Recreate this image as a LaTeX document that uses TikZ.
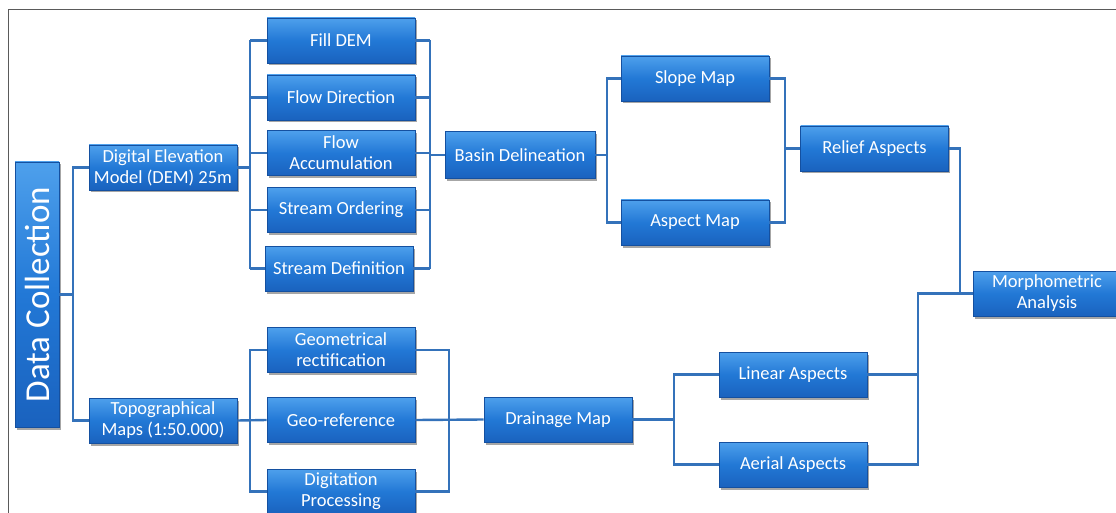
\documentclass[tikz,border=0pt]{standalone}
\usepackage{fontspec}
\usepackage{graphicx}
\setmainfont{Carlito}
\usetikzlibrary{shadows}
\definecolor{boxtop}{RGB}{78,160,236}
\definecolor{boxmid}{RGB}{34,120,214}
\definecolor{boxbot}{RGB}{26,98,190}
\definecolor{boxedge}{RGB}{20,80,160}
\definecolor{linkblue}{RGB}{52,114,186}
\definecolor{framegray}{RGB}{90,90,90}
\tikzset{
  stage/.style={draw=boxedge, line width=0.6pt, top color=boxtop, bottom color=boxbot, middle color=boxmid,
    text=white, font=\fontsize{18.5}{21}\selectfont, align=center, inner sep=1pt,
    minimum width=148pt, minimum height=45pt,
    drop shadow={shadow xshift=1.5pt, shadow yshift=-2.5pt, opacity=0.35, fill=black}},
  link/.style={draw=linkblue, line width=2.4pt}
}

\begin{document}
\begin{tikzpicture}[x=1pt,y=-1pt]
  % Boundary
  \useasboundingbox (0,0) rectangle (1116,513);
  \draw[framegray,line width=1pt] (8,513) -- (8,10) -- (1116,10);
  % Bus positions
  \coordinate (busA) at (73,0);
  \coordinate (busB) at (250,0);
  \coordinate (busC) at (430,0);
  \coordinate (busD) at (607,0);
  \coordinate (busE) at (785,0);
  \coordinate (busF) at (960,0);
  \coordinate (busG) at (918,0);
  \coordinate (busI) at (449,0);
  \coordinate (busJ) at (674,0);
  % Stages
  \node[stage, minimum width=44pt, minimum height=265pt, font=\fontsize{35}{40}\selectfont] (dc) at (37,294.5) {\rotatebox{90}{Data Collection}};
  \node[stage] (dem) at (163,167.5) {Digital Elevation\\Model (DEM) 25m};
  \node[stage] (topo) at (163,420.5) {Topographical\\Maps (1:50.000)};
  \node[stage] (fill) at (341,40.5) {Fill DEM};
  \node[stage] (fdir) at (341,97.5) {Flow Direction};
  \node[stage] (facc) at (341,153) {Flow\\Accumulation};
  \node[stage] (sord) at (341,210) {Stream Ordering};
  \node[stage] (sdef) at (339,268.5) {Stream Definition};
  \node[stage] (geom) at (341,350) {Geometrical\\rectification};
  \node[stage] (geor) at (341,420) {Geo-reference};
  \node[stage] (digi) at (341,491.5) {Digitation\\Processing};
  \node[stage, minimum width=150pt, minimum height=47pt] (basin) at (520,155) {Basin Delineation};
  \node[stage] (slope) at (695,78.5) {Slope Map};
  \node[stage] (aspect) at (695,222.5) {Aspect Map};
  \node[stage] (relief) at (874.5,148.5) {Relief Aspects};
  \node[stage] (drain) at (558,419.5) {Drainage Map};
  \node[stage] (linear) at (793,374.5) {Linear Aspects};
  \node[stage] (aerial) at (793,464.5) {Aerial Aspects};
  \node[stage] (morph) at (1047,293.5) {Morphometric\\Analysis};
  % Data collection split
  \draw[link] (dc.east) -- (dc.east -| busA);
  \draw[link] (dem.west) -- (dem.west -| busA) -- (topo.west -| busA) -- (topo.west);
  % DEM branch
  \draw[link] (dem.east) -- (dem.east -| busB);
  \draw[link] (fill.west -| busB) -- (sdef.west -| busB);
  \draw[link] (fill.east -| busC) -- (sdef.east -| busC);
  \foreach \n in {fill,fdir,facc,sord,sdef} {
    \draw[link] (\n.west -| busB) -- (\n.west);
    \draw[link] (\n.east) -- (\n.east -| busC);
  }
  \draw[link] (basin.west -| busC) -- (basin.west);
  \draw[link] (basin.east) -- (basin.east -| busD);
  \draw[link] (slope.west) -- (slope.west -| busD) -- (aspect.west -| busD) -- (aspect.west);
  \draw[link] (slope.east) -- (slope.east -| busE) -- (aspect.east -| busE) -- (aspect.east);
  \draw[link] (relief.west -| busE) -- (relief.west);
  \draw[link] (relief.east) -- (relief.east -| busF) -- (morph.west -| busF);
  % Topographical branch
  \draw[link] (topo.east) -- (geor.west);
  \draw[link] (geom.west) -- (geom.west -| busB) -- (digi.west -| busB) -- (digi.west);
  \draw[link] (geom.east) -- (geom.east -| busI) -- (digi.east -| busI) -- (digi.east);
  \draw[link] (geor.east) -- (drain.west);
  \draw[link] (drain.east) -- (drain.east -| busJ);
  \draw[link] (linear.west) -- (linear.west -| busJ) -- (aerial.west -| busJ) -- (aerial.west);
  \draw[link] (linear.east) -- (linear.east -| busG);
  \draw[link] (morph.west) -- (morph.west -| busG) -- (aerial.east -| busG) -- (aerial.east);
\end{tikzpicture}
\end{document}
